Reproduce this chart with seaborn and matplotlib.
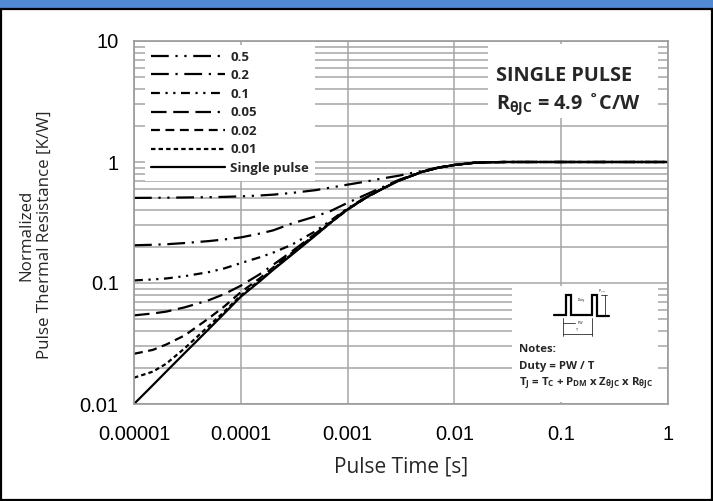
import matplotlib
matplotlib.use("Agg")
import numpy as np
import pandas as pd
import seaborn as sns
import matplotlib.pyplot as plt
from matplotlib.patches import Rectangle
from matplotlib.ticker import FixedLocator, FixedFormatter, LogLocator, NullFormatter, NullLocator

# ---------------- data ----------------
pulse_time = [1e-5, 1.5e-5, 2e-5, 3e-5, 5e-5, 7e-5, 1e-4, 1.5e-4, 2e-4, 3e-4, 5e-4, 7e-4,
              1e-3, 1.5e-3, 2e-3, 3e-3, 5e-3, 7e-3, 1e-2, 1.5e-2, 2e-2, 3e-2, 1e-1, 1.0]

z_d050 = [0.505, 0.506, 0.507, 0.509, 0.512, 0.515, 0.520, 0.529, 0.537, 0.555, 0.585, 0.615,
          0.650, 0.690, 0.725, 0.770, 0.845, 0.900, 0.947, 0.984, 0.995, 1.0, 1.0, 1.0]
z_d020 = [0.205, 0.207, 0.209, 0.214, 0.222, 0.229, 0.238, 0.256, 0.272, 0.310, 0.355, 0.395,
          0.460, 0.540, 0.605, 0.710, 0.832, 0.895, 0.945, 0.983, 0.995, 1.0, 1.0, 1.0]
z_d010 = [0.105, 0.107, 0.109, 0.114, 0.123, 0.132, 0.146, 0.163, 0.178, 0.207, 0.268, 0.330,
          0.415, 0.515, 0.587, 0.700, 0.830, 0.895, 0.945, 0.983, 0.995, 1.0, 1.0, 1.0]
z_d005 = [0.054, 0.056, 0.058, 0.063, 0.072, 0.081, 0.095, 0.118, 0.141, 0.182, 0.256, 0.324,
          0.410, 0.510, 0.585, 0.700, 0.830, 0.895, 0.945, 0.983, 0.995, 1.0, 1.0, 1.0]
z_d002 = [0.026, 0.028, 0.031, 0.037, 0.051, 0.064, 0.084, 0.109, 0.134, 0.177, 0.252, 0.320,
          0.405, 0.510, 0.585, 0.700, 0.830, 0.895, 0.945, 0.983, 0.995, 1.0, 1.0, 1.0]
z_d001 = [0.0165, 0.0185, 0.0215, 0.029, 0.044, 0.058, 0.079, 0.105, 0.130, 0.173, 0.249, 0.317,
          0.405, 0.510, 0.585, 0.700, 0.830, 0.895, 0.945, 0.983, 0.995, 1.0, 1.0, 1.0]
z_single = [0.0100, 0.0143, 0.0185, 0.0265, 0.0415, 0.056, 0.077, 0.103, 0.128, 0.171, 0.247, 0.317,
            0.405, 0.510, 0.585, 0.700, 0.830, 0.895, 0.945, 0.983, 0.995, 1.0, 1.0, 1.0]

series_labels = ["0.5", "0.2", "0.1", "0.05", "0.02", "0.01", "Single pulse"]
series_values = [z_d050, z_d020, z_d010, z_d005, z_d002, z_d001, z_single]

x_ticks = [1e-5, 1e-4, 1e-3, 1e-2, 1e-1, 1.0]
x_tick_labels = ["0.00001", "0.0001", "0.001", "0.01", "0.1", "1"]
y_ticks = [0.01, 0.1, 1, 10]
y_tick_labels = ["0.01", "0.1", "1", "10"]

# ---------------- style ----------------
sns.set_style("white")
plt.rcParams["font.family"] = ["Liberation Sans", "DejaVu Sans"]
plt.rcParams["mathtext.fontset"] = "custom"
plt.rcParams["mathtext.bf"] = "Open Sans:bold"
plt.rcParams["mathtext.rm"] = "Open Sans"
plt.rcParams["mathtext.it"] = "Open Sans:italic"

line_styles = [
    (0, (8, 3, 1, 3, 1, 3)),
    (0, (8, 3, 1, 3)),
    (0, (4, 2.5, 1, 2.5, 1, 2.5)),
    (0, (7, 3, 7, 3, 7, 3, 1, 3)),
    (0, (4, 2.5)),
    (0, (2, 1.4)),
    "-",
]

W, H = 713, 501
fig = plt.figure(figsize=(W / 100, H / 100), dpi=100)
fig.patch.set_facecolor("white")

# top blue band and black frame
fig.add_artist(Rectangle((0, 1 - 8 / H), 1, 8 / H, transform=fig.transFigure,
                         facecolor="#5289d4", edgecolor="none", zorder=0))
fig.add_artist(Rectangle((1 / W, 1 / H), (W - 2.5) / W, (H - 10) / H, transform=fig.transFigure,
                         fill=False, edgecolor="black", lw=1.6, zorder=0))

ax = fig.add_axes([134 / W, 1 - 404 / H, 534 / W, 363 / H])
ax.set_facecolor("white")

for lab, vals, ls in zip(series_labels, series_values, line_styles):
    df = pd.DataFrame({"t": pulse_time, "z": vals})
    sns.lineplot(data=df, x="t", y="z", ax=ax, color="black", lw=1.6,
                 linestyle=ls, label=lab, zorder=2)

ax.set_xscale("log")
ax.set_yscale("log")
ax.set_xlim(1e-5, 1)
ax.set_ylim(0.01, 10)

ax.xaxis.set_major_locator(FixedLocator(x_ticks))
ax.xaxis.set_major_formatter(FixedFormatter(x_tick_labels))
ax.xaxis.set_minor_locator(NullLocator())
ax.yaxis.set_major_locator(FixedLocator(y_ticks))
ax.yaxis.set_major_formatter(FixedFormatter(y_tick_labels))
ax.yaxis.set_minor_locator(LogLocator(base=10, subs=np.arange(2, 10)))
ax.yaxis.set_minor_formatter(NullFormatter())

ax.set_axisbelow(True)
ax.grid(which="major", axis="both", color="#a6a6a6", lw=1.1)
ax.grid(which="minor", axis="y", color="#a6a6a6", lw=1.1)
for sp in ax.spines.values():
    sp.set_color("#9a9a9a")
    sp.set_linewidth(1.2)

ax.tick_params(axis="both", which="both", length=0, labelsize=14.5, colors="black")
ax.tick_params(axis="x", pad=15)
ax.tick_params(axis="y", pad=11)

ax.set_xlabel("Pulse Time [s]", fontfamily="Open Sans", fontsize=15)
ax.xaxis.set_label_coords(0.5, -0.1736)
ax.xaxis.label.set_va("center")
ax.set_ylabel("Normalized\nPulse Thermal Resistance [K/W]", fontfamily="Open Sans",
              fontsize=12.2, linespacing=1.15)
ax.yaxis.set_label_coords(-0.1845, 0.465)
ax.yaxis.label.set_va("center")

leg = ax.legend(loc="upper left", bbox_to_anchor=(0.02, 0.99), borderaxespad=0,
                frameon=True, fancybox=False, framealpha=1, edgecolor="none",
                prop=dict(family="Open Sans", weight="bold", size=9.5),
                handlelength=5.6, handletextpad=0.45, labelspacing=0.42, borderpad=0.45)
leg.set_zorder(5)

# annotation box, top right
ax.add_patch(Rectangle((0.663, 0.788), 0.318, 0.204, transform=ax.transAxes,
                       facecolor="white", edgecolor="none", zorder=1))
ax.text(0.678, 0.904, "SINGLE PULSE", transform=ax.transAxes, fontfamily="Open Sans",
        fontweight="bold", fontsize=14.3, va="center", ha="left", zorder=3)
ax.text(0.678, 0.826, r"R$_{\mathbf{θJC}}$ = 4.9 ˚C/W", transform=ax.transAxes,
        fontfamily="Open Sans", fontweight="bold", fontsize=14.3, va="center", ha="left", zorder=3)

# notes box, bottom right
ax.add_patch(Rectangle((0.708, 0.005), 0.273, 0.32, transform=ax.transAxes,
                       facecolor="white", edgecolor="none", zorder=1))
ax.text(0.721, 0.149, "Notes:", transform=ax.transAxes, fontfamily="Open Sans",
        fontweight="bold", fontsize=8.2, va="center", ha="left", zorder=3)
ax.text(0.721, 0.102, "Duty = PW / T", transform=ax.transAxes, fontfamily="Open Sans",
        fontweight="bold", fontsize=8.2, va="center", ha="left", zorder=3)
ax.text(0.721, 0.055,
        r"T$_{\mathbf{J}}$ = T$_{\mathbf{C}}$ + P$_{\mathbf{DM}}$ x Z$_{\mathbf{θJC}}$ x R$_{\mathbf{θJC}}$",
        transform=ax.transAxes, fontfamily="Open Sans", fontweight="bold", fontsize=8.2,
        va="center", ha="left", zorder=3)

# small pulse-train icon
def px(x, y):
    return (x - 134) / 534, (404 - y) / 363

icon = [(554, 315), (566, 315), (566, 295), (571, 295), (571, 315), (592, 315),
        (592, 295), (597, 295), (597, 316), (609, 316)]
ix, iy = zip(*[px(a, b) for a, b in icon])
ax.plot(ix, iy, color="black", lw=1.6, transform=ax.transAxes, zorder=3, solid_joinstyle="miter")
for seg in [[(563, 323), (575, 323)], [(563, 334), (592, 334)], [(563, 318), (563, 336)],
            [(592, 318), (592, 336)], [(605, 295), (605, 315)], [(601, 295), (607, 295)]]:
    sx, sy = zip(*[px(a, b) for a, b in seg])
    ax.plot(sx, sy, color="black", lw=0.5, transform=ax.transAxes, zorder=3)
for txt, (a, b) in [("PW", (580, 323)), ("T", (577, 330)), ("P$_{DM}$", (602, 291)),
                    ("Duty", (581, 300))]:
    fx, fy = px(a, b)
    ax.text(fx, fy, txt, transform=ax.transAxes, fontsize=2.5, ha="center", va="center", zorder=3)

fig.savefig("out.png", dpi=100)
